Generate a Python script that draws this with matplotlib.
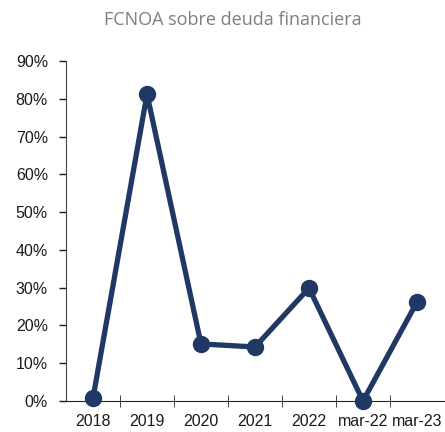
import numpy as np
import matplotlib
matplotlib.use("Agg")
import matplotlib.pyplot as plt
from matplotlib.ticker import FixedLocator, PercentFormatter

periods = ["2018", "2019", "2020", "2021", "2022", "mar-22", "mar-23"]
ratio = [0.8, 81.2, 15.1, 14.3, 29.9, 0.0, 26.2]

plt.rcParams["font.family"] = ["Liberation Sans", "DejaVu Sans"]

fig = plt.figure(figsize=(4.45, 4.32), dpi=100)
ax = fig.add_axes([66 / 445, 1 - 401 / 432, 378 / 445, 340 / 432])

x = np.arange(len(periods))
ax.plot(x, ratio, color="#1f3864", lw=3.8, marker="o", ms=11.5,
        solid_joinstyle="round", clip_on=False, zorder=3)

ax.set_xlim(-0.5, len(periods) - 0.5)
ax.set_ylim(0, 90)
ax.set_yticks(np.arange(0, 91, 10))
ax.yaxis.set_major_formatter(PercentFormatter(decimals=0))
ax.set_xticks(x)
ax.set_xticklabels(periods)
ax.xaxis.set_minor_locator(FixedLocator(np.arange(0.5, len(periods) - 0.5, 1)))

ax.tick_params(axis="x", which="major", length=0, pad=9, labelsize=11.5, colors="#1a1a1a")
ax.tick_params(axis="x", which="minor", length=9, direction="inout", color="#222222")
ax.tick_params(axis="y", length=5, width=1, labelsize=11.5, colors="#1a1a1a", pad=8)

for s in ["top", "right"]:
    ax.spines[s].set_visible(False)
ax.spines["left"].set_color("#444444")
ax.spines["bottom"].set_color("#222222")

fig.text(233 / 445, 1 - 20 / 432, "FCNOA sobre deuda financiera", ha="center", va="center",
         fontsize=13, color="#7f7f7f", family=["Open Sans", "DejaVu Sans"])

fig.savefig("out.png", dpi=100)
